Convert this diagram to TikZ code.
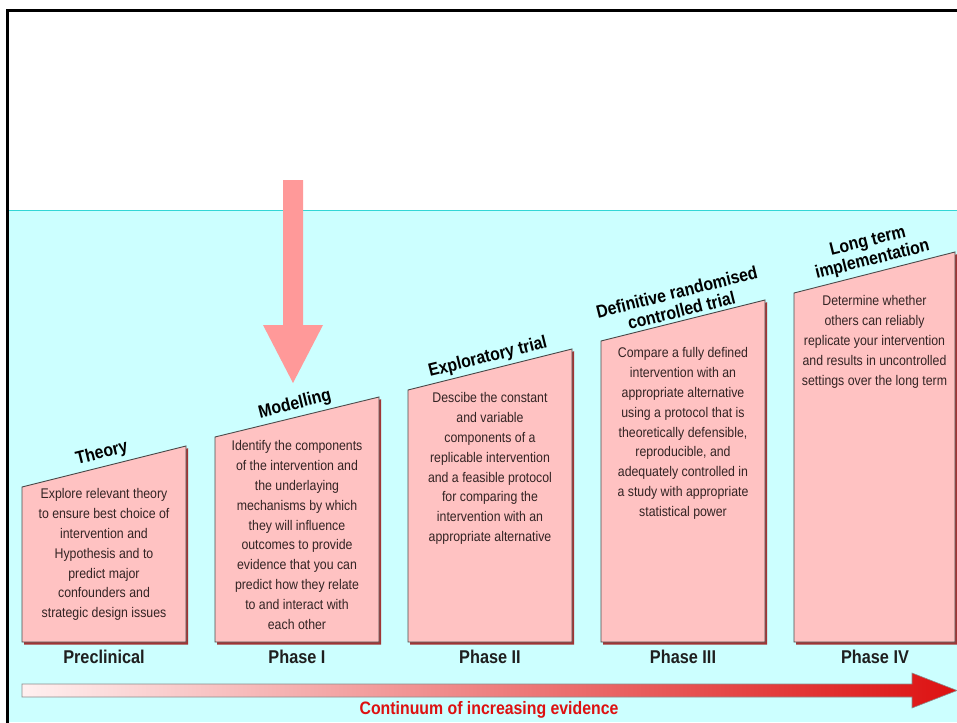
\documentclass[tikz,border=0pt]{standalone}
\usepackage{fontspec}
\setmainfont{Liberation Sans}
\newfontfamily\cf{Liberation Sans}[FakeStretch=0.88]
\definecolor{cyanbg}{HTML}{CCFFFF}
\definecolor{cyanline}{HTML}{33D6D6}
\definecolor{boxpink}{HTML}{FFC2C2}
\definecolor{shadowred}{HTML}{A03535}
\definecolor{arrowpink}{HTML}{FF9999}
\definecolor{bodytext}{HTML}{332424}
\definecolor{evred}{HTML}{DD1111}
\definecolor{evlight}{HTML}{FFF0F0}
\tikzset{
  bodytxt/.style={font=\cf\fontsize{14}{19.8}\selectfont, text=bodytext, align=center, anchor=north, inner sep=0pt},
  titletxt/.style={font=\cf\bfseries\fontsize{18}{19}\selectfont, align=center, text=black, inner sep=0pt, rotate=14, anchor=south},
  phasetxt/.style={font=\cf\bfseries\fontsize{18.5}{20}\selectfont, text=black!88, inner sep=0pt},
  boxshape/.style={fill=boxpink, draw=black!70, line width=0.9pt},
  boxshadow/.style={fill=shadowred},
}
\newcommand{\pbox}[4]{%
  \fill[boxshadow] (#1+2.2,#3+2.2) -- (#2+2.2,#4+2.2) -- (#2+2.2,644.5) -- (#1+2.2,644.5) -- cycle;
  \filldraw[boxshape] (#1,#3) -- (#2,#4) -- (#2,642) -- (#1,642) -- cycle;
}
\begin{document}
\begin{tikzpicture}[x=1pt,y=-1pt]
\useasboundingbox (0,0) rectangle (957,722);
\fill[white] (0,0) rectangle (957,722);
% cyan area
\fill[cyanbg] (8,210) rectangle (957,722);
\draw[cyanline, line width=1.4pt] (8,210.5) -- (957,210.5);
% frame
\draw[black, line width=3pt] (7,730) -- (7,11) -- (970,11);
% pink arrow
\fill[arrowpink] (283,180) -- (303,180) -- (303,325) -- (323,325) -- (293,383) -- (263,325) -- (283,325) -- cycle;
% boxes
\pbox{22}{186}{487}{446}
\pbox{215}{379}{437}{397}
\pbox{408}{572}{390}{349}
\pbox{601}{765}{341}{300}
\pbox{794}{955}{293}{252}
% titles
\node[titletxt] (t1) at (104,462) {Theory};
\node[titletxt] (t2) at (297,413) {Modelling};
\node[titletxt] (t3) at (490,366) {Exploratory trial};
\node[titletxt] (t4) at (683,317) {Definitive randomised\\controlled trial};
\node[titletxt] (t5) at (874.5,268.5) {Long term\\implementation};
% body texts
\node[bodytxt] (b1) at (104,488.5) {Explore relevant theory\\to ensure best choice of\\intervention and\\Hypothesis and to\\predict major\\confounders and\\strategic design issues};
\node[bodytxt] (b2) at (297,440.5) {Identify the components\\of the intervention and\\the underlaying\\mechanisms by which\\they will influence\\outcomes to provide\\evidence that you can\\predict how they relate\\to and interact with\\each other};
\node[bodytxt] (b3) at (490,392.5) {Descibe the constant\\and variable\\components of a\\replicable intervention\\and a feasible protocol\\for comparing the\\intervention with an\\appropriate alternative};
\node[bodytxt] (b4) at (683,347.5) {Compare a fully defined\\intervention with an\\appropriate alternative\\using a protocol that is\\theoretically defensible,\\reproducible, and\\adequately controlled in\\a study with appropriate\\statistical power};
\node[bodytxt] (b5) at (874.5,295.5) {Determine whether\\others can reliably\\replicate your intervention\\and results in uncontrolled\\settings over the long term};
% phase labels
\node[phasetxt] (p1) at (104,657) {Preclinical};
\node[phasetxt] (p2) at (297,657) {Phase I};
\node[phasetxt] (p3) at (490,657) {Phase II};
\node[phasetxt] (p4) at (683,657) {Phase III};
\node[phasetxt] (p5) at (875,657) {Phase IV};
% evidence arrow
\shadedraw[left color=evlight, right color=evred, draw=black!45, line width=0.6pt]
  (22,684) -- (912,684) -- (912,673) -- (957,690.5) -- (912,708) -- (912,697) -- (22,697) -- cycle;
\node[font=\cf\bfseries\fontsize{18}{20}\selectfont, text=evred, inner sep=0pt] (ev) at (489,710) {Continuum of increasing evidence};
\end{tikzpicture}
\end{document}
